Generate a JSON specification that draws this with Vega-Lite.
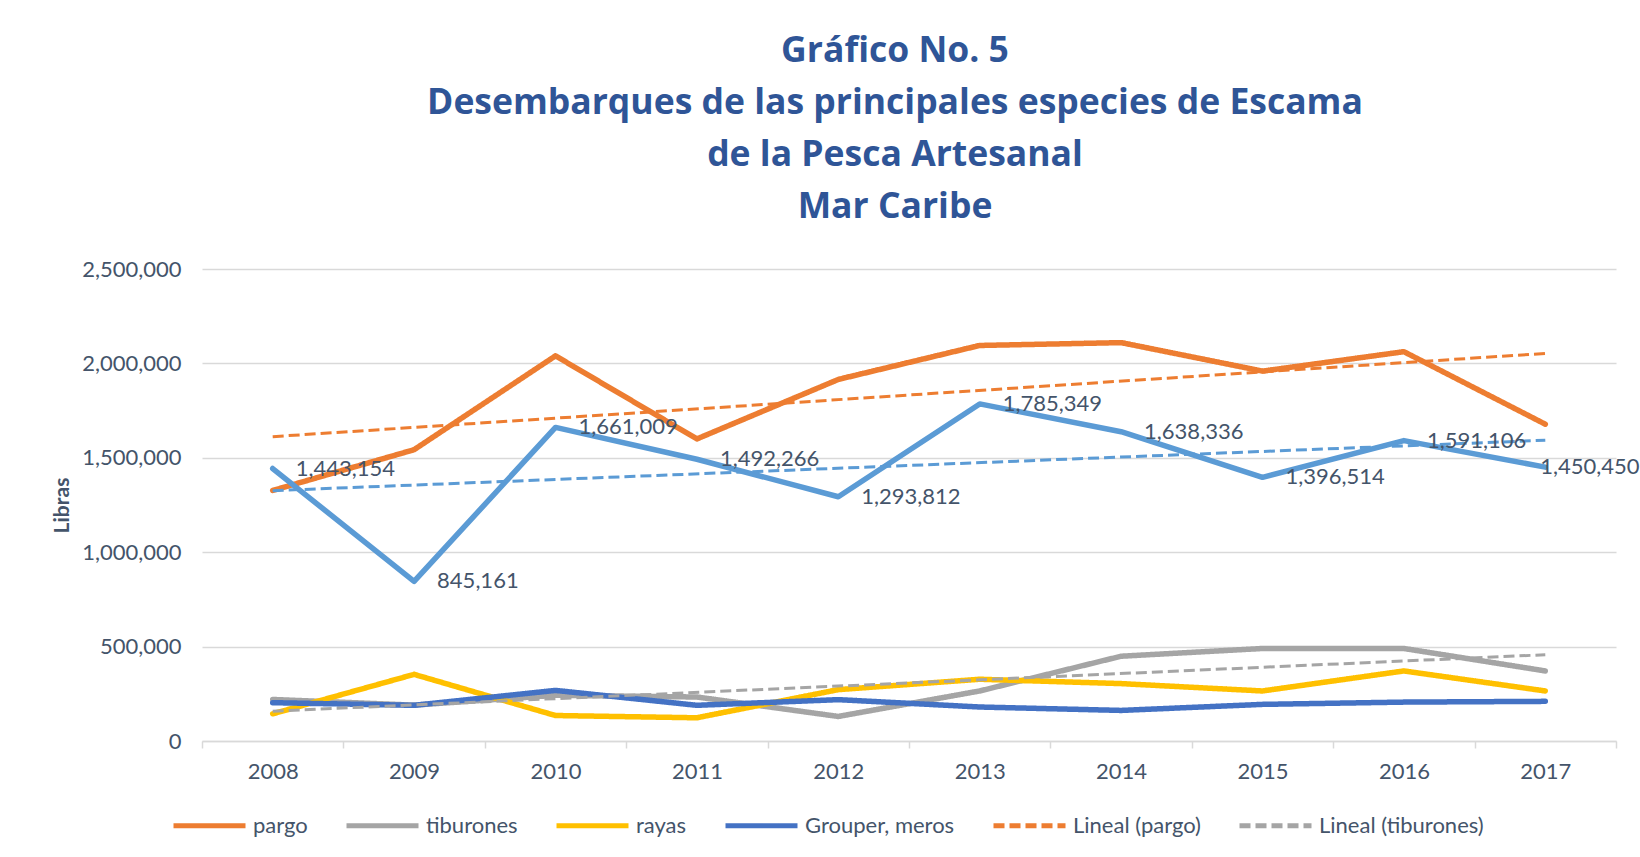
{
  "$schema": "https://vega.github.io/schema/vega-lite/v6.json",
  "autosize": {"type": "none"},
  "width": 1414,
  "height": 472,
  "padding": {"left": 202, "top": 269, "right": 24, "bottom": 116},
  "background": "white",
  "title": {
    "text": ["Gráfico No. 5", "Desembarques de las principales especies de Escama", "de la Pesca Artesanal", "Mar Caribe"],
    "font": "Open Sans",
    "fontSize": 35.5,
    "fontWeight": "bold",
    "color": "#2F5597",
    "lineHeight": 52,
    "anchor": "middle",
    "dx": -14,
    "offset": 33
  },
  "config": {
    "view": {"stroke": null},
    "font": "Lato",
    "axis": {"labelFont": "Lato", "labelColor": "#44546A", "labelFontSize": 22, "titleFont": "Lato", "titleColor": "#44546A"},
    "legend": {"labelFont": "Lato", "labelColor": "#44546A", "labelFontSize": 22, "labelLimit": 400}
  },
  "datasets": {
    "main": [
      {"year": 2008, "series": "pargo", "value": 1327000},
      {"year": 2009, "series": "pargo", "value": 1543000},
      {"year": 2010, "series": "pargo", "value": 2040000},
      {"year": 2011, "series": "pargo", "value": 1600000},
      {"year": 2012, "series": "pargo", "value": 1915000},
      {"year": 2013, "series": "pargo", "value": 2095000},
      {"year": 2014, "series": "pargo", "value": 2110000},
      {"year": 2015, "series": "pargo", "value": 1959000},
      {"year": 2016, "series": "pargo", "value": 2062000},
      {"year": 2017, "series": "pargo", "value": 1678000},
      {"year": 2008, "series": "tiburones", "value": 220000},
      {"year": 2009, "series": "tiburones", "value": 190000},
      {"year": 2010, "series": "tiburones", "value": 242000},
      {"year": 2011, "series": "tiburones", "value": 233000},
      {"year": 2012, "series": "tiburones", "value": 130000},
      {"year": 2013, "series": "tiburones", "value": 265000},
      {"year": 2014, "series": "tiburones", "value": 449000},
      {"year": 2015, "series": "tiburones", "value": 490000},
      {"year": 2016, "series": "tiburones", "value": 490000},
      {"year": 2017, "series": "tiburones", "value": 371000},
      {"year": 2008, "series": "rayas", "value": 144000},
      {"year": 2009, "series": "rayas", "value": 353000},
      {"year": 2010, "series": "rayas", "value": 135000},
      {"year": 2011, "series": "rayas", "value": 123000},
      {"year": 2012, "series": "rayas", "value": 272000},
      {"year": 2013, "series": "rayas", "value": 327000},
      {"year": 2014, "series": "rayas", "value": 304000},
      {"year": 2015, "series": "rayas", "value": 265000},
      {"year": 2016, "series": "rayas", "value": 371000},
      {"year": 2017, "series": "rayas", "value": 265000},
      {"year": 2008, "series": "Grouper, meros", "value": 203000},
      {"year": 2009, "series": "Grouper, meros", "value": 189000},
      {"year": 2010, "series": "Grouper, meros", "value": 268000},
      {"year": 2011, "series": "Grouper, meros", "value": 189000},
      {"year": 2012, "series": "Grouper, meros", "value": 219000},
      {"year": 2013, "series": "Grouper, meros", "value": 180000},
      {"year": 2014, "series": "Grouper, meros", "value": 162000},
      {"year": 2015, "series": "Grouper, meros", "value": 194000},
      {"year": 2016, "series": "Grouper, meros", "value": 206000},
      {"year": 2017, "series": "Grouper, meros", "value": 210000}
    ],
    "trend": [
      {"year": 2008, "series": "Lineal (pargo)", "value": 1612000},
      {"year": 2017, "series": "Lineal (pargo)", "value": 2053000},
      {"year": 2008, "series": "Lineal (tiburones)", "value": 158000},
      {"year": 2017, "series": "Lineal (tiburones)", "value": 457000}
    ],
    "other": [
      {"year": 2008, "value": 1443154},
      {"year": 2009, "value": 845161},
      {"year": 2010, "value": 1661009},
      {"year": 2011, "value": 1492266},
      {"year": 2012, "value": 1293812},
      {"year": 2013, "value": 1785349},
      {"year": 2014, "value": 1638336},
      {"year": 2015, "value": 1396514},
      {"year": 2016, "value": 1591106},
      {"year": 2017, "value": 1450450}
    ],
    "otherTrend": [
      {"year": 2008, "value": 1326000},
      {"year": 2017, "value": 1593000}
    ]
  },
  "encoding": {
    "x": {
      "field": "year",
      "type": "ordinal",
      "scale": {"type": "band", "domain": [2008, 2009, 2010, 2011, 2012, 2013, 2014, 2015, 2016, 2017], "paddingInner": 0, "paddingOuter": 0},
      "axis": {"title": null, "labelAngle": 0, "tickBand": "extent", "tickSize": 7, "tickColor": "#D9D9D9", "tickWidth": 1.5, "domainColor": "#D9D9D9", "domainWidth": 1.5, "labelPadding": 13, "grid": false}
    },
    "y": {
      "field": "value",
      "type": "quantitative",
      "scale": {"domain": [0, 2500000], "nice": false},
      "axis": {"title": "Libras", "titleFontSize": 21, "titleFontWeight": "bold", "titlePadding": 9, "format": ",d", "values": [0, 500000, 1000000, 1500000, 2000000, 2500000], "domain": false, "ticks": false, "labelPadding": 21, "gridColor": "#D9D9D9", "gridWidth": 1.5}
    }
  },
  "layer": [
    {
      "data": {"name": "main"},
      "mark": {"type": "line", "strokeWidth": 5.5, "strokeCap": "round", "strokeJoin": "round"},
      "encoding": {
        "color": {
          "field": "series",
          "type": "nominal",
          "scale": {
            "domain": ["pargo", "tiburones", "rayas", "Grouper, meros", "Lineal (pargo)", "Lineal (tiburones)"],
            "range": ["#ED7D31", "#A5A5A5", "#FFC000", "#4472C4", "#ED7D31", "#A5A5A5"]
          },
          "legend": {
            "title": null,
            "orient": "none",
            "legendX": -31,
            "legendY": 518,
            "direction": "horizontal",
            "symbolType": "stroke",
            "symbolSize": 5184,
            "symbolStrokeWidth": 5,
            "labelOffset": 5,
            "columnPadding": 28,
            "labelFontSize": 22,
            "labelLimit": 400
          }
        },
        "strokeDash": {
          "field": "series",
          "type": "nominal",
          "scale": {
            "domain": ["pargo", "tiburones", "rayas", "Grouper, meros", "Lineal (pargo)", "Lineal (tiburones)"],
            "range": [[1, 0], [1, 0], [1, 0], [1, 0], [11, 5], [11, 5]]
          },
          "legend": {
            "title": null,
            "orient": "none",
            "legendX": -31,
            "legendY": 518,
            "direction": "horizontal",
            "symbolType": "stroke",
            "symbolSize": 5184,
            "symbolStrokeWidth": 5,
            "labelOffset": 5,
            "columnPadding": 28,
            "labelFontSize": 22,
            "labelLimit": 400
          }
        }
      }
    },
    {
      "data": {"name": "other"},
      "mark": {"type": "line", "strokeWidth": 5.5, "strokeCap": "round", "strokeJoin": "round", "color": "#5B9BD5"},
      "encoding": {}
    },
    {
      "data": {"name": "trend"},
      "mark": {"type": "line", "strokeWidth": 3},
      "encoding": {
        "color": {"field": "series", "type": "nominal"},
        "strokeDash": {"field": "series", "type": "nominal"}
      }
    },
    {
      "data": {"name": "otherTrend"},
      "mark": {"type": "line", "strokeWidth": 3, "strokeDash": [11, 5], "color": "#5B9BD5"},
      "encoding": {}
    },
    {
      "data": {"name": "other"},
      "transform": [{"filter": "datum.year < 2017"}],
      "mark": {"type": "text", "align": "left", "baseline": "middle", "dx": 23, "fontSize": 22, "color": "#44546A", "font": "Lato"},
      "encoding": {
        "text": {"field": "value", "type": "quantitative", "format": ",d"}
      }
    },
    {
      "data": {"name": "other"},
      "transform": [{"filter": "datum.year == 2017"}],
      "mark": {"type": "text", "align": "left", "baseline": "middle", "dx": -5, "fontSize": 22, "color": "#44546A", "font": "Lato"},
      "encoding": {
        "text": {"field": "value", "type": "quantitative", "format": ",d"}
      }
    }
  ]
}
